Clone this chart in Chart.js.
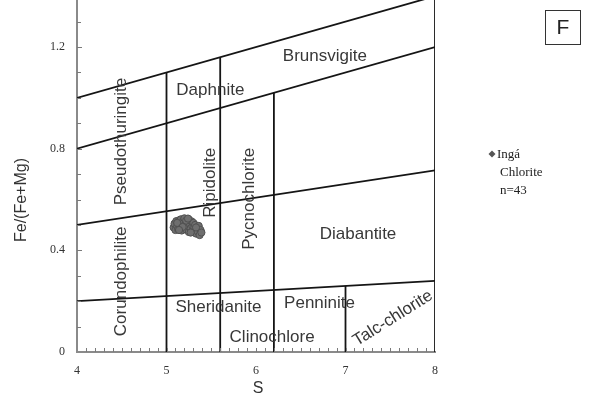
<!DOCTYPE html>
<html>
<head>
<meta charset="utf-8">
<script src="https://cdn.jsdelivr.net/npm/chart.js@4"></script>
<style>
  html, body { margin: 0; padding: 0; background: #fff; }
  #wrap { width: 597px; height: 399px; position: relative; }
</style>
</head>
<body>
<div id="wrap"><canvas id="chlorite"></canvas></div>
<script>
// Ingá chlorite analyses: Si per formula unit (S) and Fe/(Fe+Mg)
const ingaS = [
    5.08, 5.09, 5.10, 5.11, 5.12, 5.13, 5.14, 5.15, 5.16, 5.16,
    5.17, 5.18, 5.19, 5.20, 5.20, 5.21, 5.22, 5.23, 5.24, 5.25,
    5.25, 5.26, 5.27, 5.28, 5.29, 5.30, 5.30, 5.31, 5.32, 5.33,
    5.34, 5.35, 5.36, 5.37, 5.38, 5.39, 5.12, 5.18, 5.22, 5.27,
    5.14, 5.33, 5.24
];
const ingaFe = [
    0.490, 0.505, 0.480, 0.515, 0.495, 0.483, 0.518, 0.502, 0.490, 0.522,
    0.478, 0.508, 0.517, 0.492, 0.526, 0.502, 0.482, 0.512, 0.496, 0.521,
    0.472, 0.505, 0.486, 0.514, 0.495, 0.476, 0.508, 0.490, 0.500, 0.466,
    0.485, 0.474, 0.496, 0.460, 0.480, 0.470, 0.508, 0.492, 0.517, 0.470,
    0.480, 0.490, 0.525
];

// Hey (1954) field boundaries, as [S, Fe/(Fe+Mg)] end points
const upperBoundary = [[4, 1.0], [8, 1.4]];
const daphniteBoundary = [[4, 0.8], [8, 1.2]];
const midBoundary = [[4, 0.5], [8, 0.715]];
const lowBoundary = [[4, 0.2], [8, 0.28]];
// vertical dividers: S value and the Fe/(Fe+Mg) they rise to
const dividerS = [5, 5.6, 6.2, 7, 8];
const dividerTop = [1.1, 1.16, 1.02, 0.26, 1.4];

// field names, placed at [S, Fe/(Fe+Mg)], with text rotation in degrees
const fieldNames = ['Brunsvigite', 'Daphnite', 'Pseudothuringite', 'Corundophilite', 'Ripidolite',
    'Pycnochlorite', 'Diabantite', 'Sheridanite', 'Penninite', 'Clinochlore', 'Talc-chlorite'];
const fieldAt = [[6.77, 1.164], [5.49, 1.028], [4.50, 0.828], [4.49, 0.278], [5.49, 0.666],
    [5.93, 0.603], [7.14, 0.463], [5.58, 0.176], [6.71, 0.192], [6.18, 0.058], [7.53, 0.133]];
const fieldRot = [0, 0, -90, -90, -90, -90, 0, 0, 0, 0, -32];

const yTicks = [0, 0.4, 0.8, 1.2];
const legendLines = ['Ingá', 'Chlorite', 'n=43'];

const SANS = '"Liberation Sans", Arial, sans-serif';
const SERIF = '"Liberation Serif", "Times New Roman", serif';

function seg(pts) {
    return pts.map(p => ({ x: p[0], y: p[1] }));
}

const lineStyle = { showLine: true, pointRadius: 0, borderColor: '#151515', borderWidth: 1.8, fill: false };

const datasets = [
    {
        label: 'Ingá Chlorite n=43',
        data: ingaS.map((s, i) => ({ x: s, y: ingaFe[i] })),
        pointRadius: 3.6,
        backgroundColor: '#6f6f6f',
        borderColor: '#505050',
        borderWidth: 1
    },
    { ...lineStyle, data: seg(upperBoundary) },
    { ...lineStyle, data: seg(daphniteBoundary) },
    { ...lineStyle, data: seg(midBoundary) },
    { ...lineStyle, data: seg(lowBoundary) },
    ...dividerS.map((s, i) => ({ ...lineStyle, data: seg([[s, 0], [s, dividerTop[i]]]) }))
];

// inward minor tick marks, field names, the "F" panel tag and the legend
const decorations = {
    id: 'decorations',
    afterDatasetsDraw(chart) {
        const { ctx, chartArea: a, scales: { x, y } } = chart;
        ctx.save();
        ctx.strokeStyle = '#7a7a7a';
        ctx.lineWidth = 1;
        ctx.beginPath();
        for (let i = 1; i < 40; i++) {
            const px = Math.round(x.getPixelForValue(4 + i * 0.1)) + 0.5;
            ctx.moveTo(px, a.bottom);
            ctx.lineTo(px, a.bottom - 4);
        }
        for (let i = 1; i <= 13; i++) {
            const py = Math.round(y.getPixelForValue(i * 0.1)) + 0.5;
            ctx.moveTo(a.left, py);
            ctx.lineTo(a.left + (i % 4 === 0 ? 5 : 4), py);
        }
        ctx.stroke();

        ctx.fillStyle = '#383838';
        ctx.font = '17px ' + SANS;
        ctx.textAlign = 'center';
        ctx.textBaseline = 'middle';
        fieldNames.forEach((name, i) => {
            ctx.save();
            ctx.translate(x.getPixelForValue(fieldAt[i][0]), y.getPixelForValue(fieldAt[i][1]));
            ctx.rotate(fieldRot[i] * Math.PI / 180);
            ctx.fillText(name, 0, 0);
            ctx.restore();
        });

        // axis titles
        ctx.fillStyle = '#333';
        ctx.font = '16px ' + SANS;
        ctx.fillText('S', (a.left + a.right) / 2 + 2, 389);
        ctx.save();
        ctx.translate(22, 200);
        ctx.rotate(-Math.PI / 2);
        ctx.fillText('Fe/(Fe+Mg)', 0, 0);
        ctx.restore();

        // panel tag
        ctx.strokeStyle = '#333';
        ctx.lineWidth = 1;
        ctx.strokeRect(545.5, 10.5, 35, 34);
        ctx.fillStyle = '#222';
        ctx.font = '21px ' + SANS;
        ctx.fillText('F', 563, 28);

        // legend
        ctx.fillStyle = '#555';
        ctx.beginPath();
        ctx.moveTo(492, 150.5);
        ctx.lineTo(495.5, 154);
        ctx.lineTo(492, 157.5);
        ctx.lineTo(488.5, 154);
        ctx.closePath();
        ctx.fill();
        ctx.fillStyle = '#222';
        ctx.font = '13px ' + SERIF;
        ctx.textAlign = 'left';
        legendLines.forEach((t, i) => ctx.fillText(t, i === 0 ? 497 : 500, 155 + i * 18));
        ctx.restore();
    }
};

new Chart(document.getElementById('chlorite'), {
    type: 'scatter',
    data: { datasets },
    options: {
        responsive: true,
        maintainAspectRatio: false,
        animation: false,
        layout: { autoPadding: false, padding: { top: 0, right: 162, bottom: 0, left: 0 } },
        plugins: { legend: { display: false }, tooltip: { enabled: false } },
        scales: {
            x: {
                type: 'linear',
                min: 4, max: 8,
                grid: { display: false },
                border: { display: true, color: '#8a8a8a', width: 2 },
                ticks: { stepSize: 1, color: '#333', padding: 4, font: { family: SERIF, size: 12 } },
                afterFit(scale) { scale.height = 47; }
            },
            y: {
                type: 'linear',
                min: 0, max: 1.385,
                grid: { display: false },
                border: { display: true, color: '#8a8a8a', width: 2 },
                afterBuildTicks(scale) { scale.ticks = yTicks.map(v => ({ value: v })); },
                ticks: { color: '#333', padding: 4, font: { family: SERIF, size: 12 }, callback: v => String(v) },
                afterFit(scale) {
                    scale.width = 77;
                    scale.paddingTop = 0;
                    scale.paddingBottom = 0;
                }
            }
        }
    },
    plugins: [decorations]
});
</script>
</body>
</html>
